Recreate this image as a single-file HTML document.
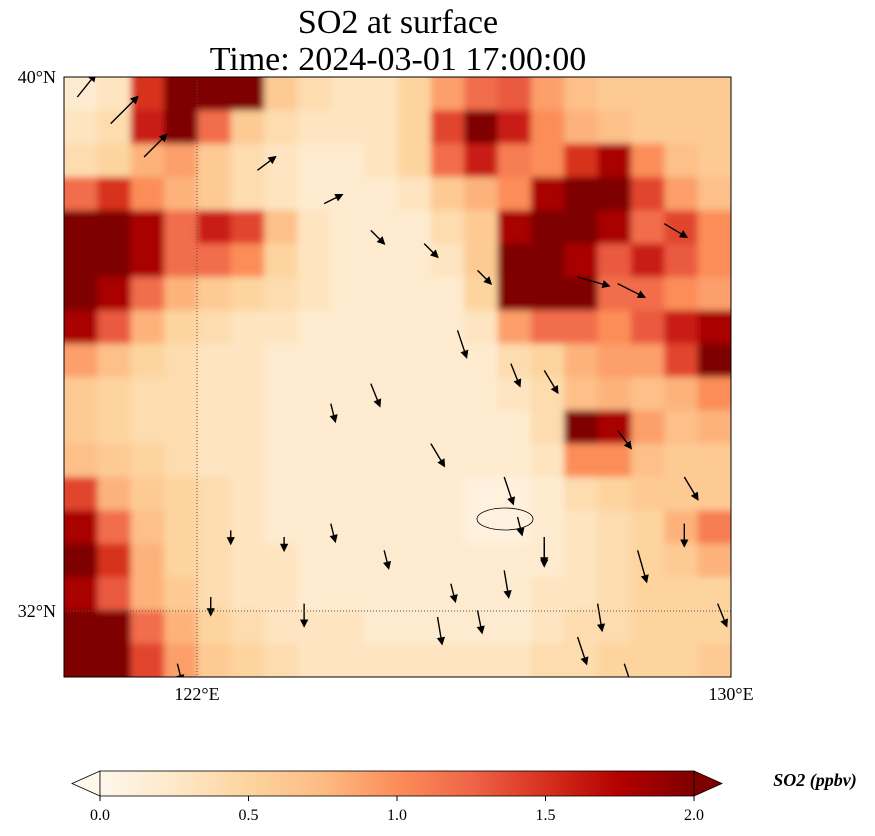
<!DOCTYPE html>
<html><head><meta charset="utf-8">
<style>
body{margin:0;background:#fff;width:875px;height:836px;overflow:hidden;font-family:"Liberation Serif",serif;}
svg{position:absolute;left:0;top:0}
</style></head>
<body>
<svg id="c" width="875" height="836" xmlns="http://www.w3.org/2000/svg">
<defs>
<linearGradient id="cm" x1="0" x2="1" y1="0" y2="0">
<stop offset="0" stop-color="#fff7ec"/><stop offset="0.125" stop-color="#fee8c8"/><stop offset="0.25" stop-color="#fdd49e"/><stop offset="0.375" stop-color="#fdbb84"/><stop offset="0.5" stop-color="#fc8d59"/><stop offset="0.625" stop-color="#ef6548"/><stop offset="0.75" stop-color="#d7301f"/><stop offset="0.875" stop-color="#b30000"/><stop offset="1" stop-color="#7f0000"/>
</linearGradient>
<clipPath id="mc"><rect x="64" y="77" width="667" height="600"/></clipPath>
<filter id="bl" x="0" y="0" width="875" height="836" filterUnits="userSpaceOnUse"><feGaussianBlur stdDeviation="3.5"/></filter>
</defs>
<text x="398" y="33" font-size="34" text-anchor="middle">SO2 at surface</text>
<text x="398" y="70" font-size="34" text-anchor="middle">Time: 2024-03-01 17:00:00</text>
<g clip-path="url(#mc)"><g id="cells" filter="url(#bl)"></g></g>
<g id="wind" clip-path="url(#mc)"></g>
<ellipse cx="505" cy="519" rx="28" ry="11" fill="none" stroke="#000" stroke-width="0.8"/>
<line x1="197" y1="77" x2="197" y2="677" stroke="#555" stroke-dasharray="1,2"/>
<line x1="64" y1="611" x2="731" y2="611" stroke="#555" stroke-dasharray="1,2"/>
<rect x="64" y="77" width="667" height="600" fill="none" stroke="#000" stroke-width="1"/>
<g font-size="18">
<text x="56" y="83" text-anchor="end">40°N</text>
<text x="56" y="617" text-anchor="end">32°N</text>
<text x="197" y="700" text-anchor="middle">122°E</text>
<text x="731" y="700" text-anchor="middle">130°E</text>
</g>
<g>
<polygon points="100,771 72,783.5 100,796" fill="#fff7ec" stroke="#000" stroke-width="0.8"/>
<polygon points="694,771 722,783.5 694,796" fill="#7f0000" stroke="#000" stroke-width="0.8"/>
<rect x="100" y="771" width="594" height="25" fill="url(#cm)" stroke="#000" stroke-width="0.8"/>
<g id="cbticks" font-size="16"></g>
<text x="815" y="786" font-size="18" font-weight="bold" font-style="italic" text-anchor="middle">SO2 (ppbv)</text>
</g>
</svg>
<script>
const so2Grid = [
[0.2,0.3,1.5,2,2,2,0.6,0.4,0.3,0.3,0.5,0.9,1.2,1.3,0.9,0.7,0.6,0.6,0.6,0.6],
[0.3,0.4,1.6,2,1.2,0.6,0.4,0.3,0.3,0.3,0.5,1.4,2,1.6,1.0,0.8,0.7,0.6,0.6,0.6],
[0.4,0.5,0.8,0.9,0.6,0.4,0.3,0.2,0.2,0.3,0.5,1.2,1.6,1.1,1.0,1.5,1.8,1.0,0.7,0.6],
[1.2,1.5,1.0,0.8,0.6,0.4,0.3,0.2,0.2,0.2,0.3,0.6,0.8,1.0,1.8,2,2,1.4,0.9,0.7],
[2,2,1.8,1.2,1.6,1.4,0.7,0.3,0.2,0.2,0.2,0.4,0.6,1.8,2,2,1.8,1.2,1.4,1.0],
[2,2,1.8,1.2,1.2,1.0,0.5,0.3,0.2,0.2,0.2,0.3,0.6,2,2,1.8,1.3,1.6,1.3,1.0],
[2,1.8,1.2,0.8,0.6,0.5,0.4,0.3,0.2,0.2,0.2,0.2,0.5,2,2,2,1.2,1.2,1.0,0.9],
[1.8,1.3,0.8,0.5,0.4,0.3,0.3,0.2,0.2,0.2,0.2,0.2,0.3,0.9,1.2,1.2,1.0,1.3,1.6,1.8],
[0.9,0.7,0.5,0.4,0.3,0.3,0.2,0.2,0.2,0.2,0.2,0.2,0.2,0.4,0.5,0.8,0.9,0.9,1.4,2],
[0.6,0.5,0.4,0.4,0.3,0.3,0.2,0.2,0.2,0.2,0.2,0.2,0.2,0.3,0.4,0.7,0.8,0.7,0.8,1.0],
[0.6,0.5,0.4,0.4,0.3,0.3,0.2,0.2,0.2,0.2,0.2,0.2,0.2,0.2,0.4,2,1.8,0.9,0.7,0.8],
[0.7,0.6,0.5,0.4,0.3,0.3,0.2,0.2,0.2,0.2,0.2,0.2,0.2,0.2,0.3,1.0,1.0,0.7,0.6,0.6],
[1.4,0.8,0.6,0.5,0.4,0.3,0.2,0.2,0.2,0.2,0.2,0.2,0.1,0.1,0.2,0.4,0.5,0.6,0.6,0.6],
[1.8,1.2,0.7,0.5,0.4,0.3,0.2,0.2,0.2,0.2,0.2,0.2,0.1,0.1,0.2,0.3,0.4,0.5,0.8,1.1],
[2,1.5,0.8,0.5,0.4,0.3,0.3,0.2,0.2,0.2,0.2,0.2,0.2,0.2,0.2,0.3,0.4,0.5,0.6,0.8],
[1.8,1.3,0.8,0.6,0.4,0.3,0.3,0.2,0.2,0.2,0.2,0.2,0.2,0.2,0.3,0.3,0.4,0.5,0.5,0.5],
[2,2,1.2,0.8,0.5,0.4,0.3,0.3,0.3,0.2,0.2,0.2,0.2,0.2,0.3,0.4,0.4,0.5,0.5,0.5],
[2,2,1.4,0.9,0.6,0.5,0.4,0.3,0.3,0.3,0.3,0.3,0.3,0.3,0.4,0.4,0.5,0.5,0.5,0.6]
];
const cbTicks = [0.0,0.5,1.0,1.5,2.0];
const windLon = [120.2,120.7,121.2,122.9,123.9,124.6,125.4,126.2,127.7,128.3,129.0,125.9,126.7,127.2,124.0,124.6,125.5,126.6,126.8,127.2,128.3,129.3,122.5,123.3,124.0,124.8,125.8,126.6,127.2,128.0,128.6,129.3,129.8,121.7,122.2,123.6,125.6,126.2,127.7,128.4];
const windLat = [39.7,39.3,38.8,38.6,38.1,37.7,37.5,37.1,37.0,36.9,37.8,36.2,35.7,35.6,35.1,35.4,34.5,34.0,33.4,33.0,34.7,34.0,33.2,33.1,33.3,32.9,32.4,32.6,33.1,32.1,32.9,33.3,32.1,31.2,32.2,32.1,31.9,32.0,31.6,31.2];
const windU = [0.4,0.6,0.5,0.4,0.4,0.3,0.3,0.3,0.7,0.6,0.5,0.2,0.2,0.3,0.1,0.2,0.3,0.2,0.1,0.0,0.3,0.3,0.0,0.0,0.1,0.1,0.1,0.1,0.0,0.1,0.2,0.0,0.2,0.1,0.0,0.0,0.1,0.1,0.2,0.2];
const windV = [0.5,0.6,0.5,0.3,0.2,-0.3,-0.3,-0.3,-0.2,-0.3,-0.3,-0.6,-0.5,-0.5,-0.4,-0.5,-0.5,-0.6,-0.4,-0.5,-0.4,-0.5,-0.3,-0.3,-0.4,-0.4,-0.4,-0.6,-0.6,-0.6,-0.7,-0.5,-0.5,-0.4,-0.4,-0.5,-0.6,-0.5,-0.6,-0.6];

const X0=64,Y0=77,W=667,H=600,LON0=120,LON1=130,LAT0=40,LAT1=31;
const xOf=lon=>X0+(lon-LON0)/(LON1-LON0)*W;
const yOf=lat=>Y0+(LAT0-lat)/(LAT0-LAT1)*H;
const stops=["#fff7ec","#fee8c8","#fdd49e","#fdbb84","#fc8d59","#ef6548","#d7301f","#b30000","#7f0000"].map(h=>[1,3,5].map(i=>parseInt(h.substr(i,2),16)));
function cmap(v){let t=Math.max(0,Math.min(1,v/2))*8;let i=Math.min(7,Math.floor(t)),f=t-i;const a=stops[i],b=stops[i+1];return `rgb(${a.map((c,k)=>Math.round(c+(b[k]-c)*f)).join(',')})`;}
const NS="http://www.w3.org/2000/svg";
const g=document.getElementById('cells');
const rows=so2Grid.length,cols=so2Grid[0].length,cw=W/cols,ch=H/rows,EXT=25;
so2Grid.forEach((row,r)=>row.forEach((v,c)=>{
 let x=X0+c*cw,y=Y0+r*ch,w=cw+0.6,h=ch+0.6;
 if(c===0){x-=EXT;w+=EXT;} if(c===cols-1){w+=EXT;}
 if(r===0){y-=EXT;h+=EXT;} if(r===rows-1){h+=EXT;}
 const e=document.createElementNS(NS,'rect');
 e.setAttribute('x',x);e.setAttribute('y',y);
 e.setAttribute('width',w);e.setAttribute('height',h);
 e.setAttribute('fill',cmap(v));
 
 
 g.appendChild(e);
}));
const wg=document.getElementById('wind');
windLon.forEach((lon,i)=>{
 const x=xOf(lon),y=yOf(windLat[i]),s=45;
 const dx=windU[i]*s,dy=-windV[i]*s,L=Math.hypot(dx,dy)||1,ux=dx/L,uy=dy/L;
 const x2=x+dx,y2=y+dy;
 const p=document.createElementNS(NS,'path');
 p.setAttribute('d',`M${x},${y}L${x2},${y2}M${x2-ux*6-uy*3},${y2-uy*6+ux*3}L${x2},${y2}L${x2-ux*6+uy*3},${y2-uy*6-ux*3}Z`);
 p.setAttribute('stroke','#000');p.setAttribute('stroke-width','1.4');p.setAttribute('fill','#000');
 
 
 wg.appendChild(p);
});
const tg=document.getElementById('cbticks');
cbTicks.forEach(v=>{
 const x=100+v/2*594;
 const t=document.createElementNS(NS,'text');
 t.setAttribute('x',x);t.setAttribute('y',820);t.setAttribute('text-anchor','middle');
 t.textContent=v.toFixed(1);
 
 
 tg.appendChild(t);
 const l=document.createElementNS(NS,'line');
 l.setAttribute('x1',x);l.setAttribute('x2',x);l.setAttribute('y1',796);l.setAttribute('y2',801);l.setAttribute('stroke','#000');
 
 
 tg.appendChild(l);
});
</script>
</body></html>
